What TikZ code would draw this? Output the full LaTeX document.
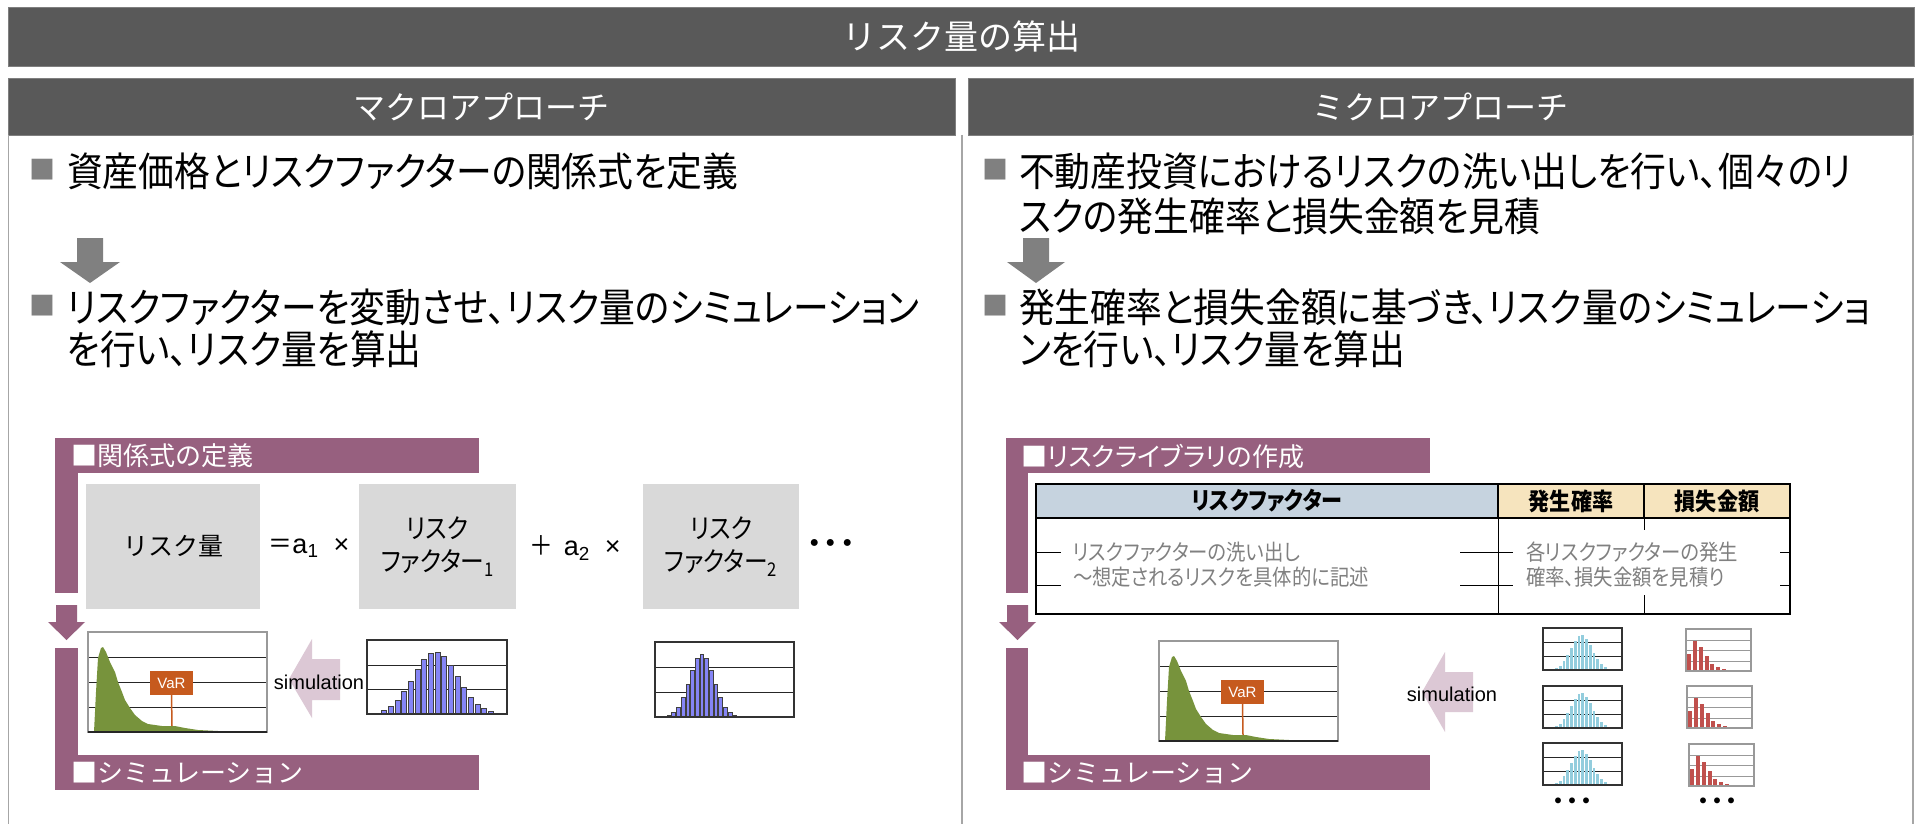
\documentclass[tikz,border=0pt]{standalone}
\usepackage{fontspec}
\newfontfamily\jp[FakeStretch=0.895,RawFeature=+palt]{Noto Sans CJK JP}
\newfontfamily\jpq[FakeStretch=0.88,RawFeature=+palt]{Noto Sans CJK JP}
\newfontfamily\jpp[RawFeature=+palt]{Noto Sans CJK JP}
\newfontfamily\jpn{Noto Sans CJK JP}
\newfontfamily\lat{Liberation Sans}
\newcommand\setfs[1]{\fontsize{#1}{#1}\selectfont}
\definecolor{hdr}{HTML}{595959}
\definecolor{hdrline}{HTML}{7F7F7F}
\definecolor{panel}{HTML}{A6A6A6}
\definecolor{bulgray}{HTML}{808080}
\definecolor{arrgray}{HTML}{808080}
\definecolor{purp}{HTML}{97607F}
\definecolor{eqgray}{HTML}{D9D9D9}
\definecolor{pinkarr}{HTML}{DCC8D5}
\definecolor{varor}{HTML}{C65A1E}
\definecolor{grn}{HTML}{77933C}
\definecolor{bbar}{HTML}{8585F5}
\definecolor{cyanbar}{HTML}{93CDDD}
\definecolor{redbar}{HTML}{C0504D}
\definecolor{thblue}{HTML}{C6D3DF}
\definecolor{thbeige}{HTML}{F6E4BE}
\definecolor{bodygray}{HTML}{808080}
\tikzset{
  hdrbar/.style={fill=hdr, draw=hdrline, line width=0.8pt, text=white},
  panelline/.style={draw=panel, line width=1.5pt},
  bulletsq/.style={text=bulgray, font=\jpn\setfs{26}},
  btxt/.style={anchor=west, text=black, font=\jp\setfs{40}},
  bandtxt/.style={anchor=west, text=white, font=\jpn\setfs{26}},
  eqbox/.style={fill=eqgray, text=black, font=\jpq\setfs{27}, align=center},
  eqtxt/.style={text=black, font=\jpq\setfs{27}},
  simtxt/.style={text=black, font=\lat\setfs{20}},
  dotstxt/.style={text=black, font=\jpn\bfseries\setfs{33}},
  thead/.style={draw=black, line width=1.2pt, text=black, font=\jpq\bfseries\setfs{24}, minimum height=34},
  bodytxt/.style={anchor=west, text=bodygray, font=\jpq\setfs{22}},
  gridl/.style={draw=black!85, line width=0.9pt},
  gridg/.style={draw=black!40, line width=0.9pt},
  frameb/.style={draw=black!80, line width=1.2pt},
  frameg/.style={draw=black!40, line width=1.2pt},
  varbox/.style={fill=varor, text=white, font=\lat\setfs{15}, minimum width=43, minimum height=24},
  greenchart/.pic={
    \foreach \yy in {25,50,75} \draw[gridl] (0,\yy) -- (179,\yy);
    \fill[grn] (6,100) -- (7,80) -- (8,60) -- (10,26) -- (13,16) -- (15,15) -- (18,20) -- (22,30) -- (27,40)
      -- (30,50) -- (34,60) -- (37,68) -- (42,76) -- (47,83) -- (54,89) -- (60,92) -- (67,93) -- (74,94)
      -- (87,94) -- (97,96) -- (110,98) -- (130,99) -- (179,100) -- cycle;
    \draw[frameg] (0,0) rectangle (179,100);
    \draw[black!85, line width=1.2pt] (0,100) -- (179,100);
    \node[varbox] (-var) at (83.5,51) {VaR};
    \draw[varor, line width=1.5pt] (-var.south) -- (84,94);
  },
  cyanchart/.pic={
    \foreach \yy in {14,28} \draw[gridl] (0,\yy) -- (79,\yy);
    \foreach \i in {0,...,16}{
      \pgfmathsetmacro\hh{35*exp(-0.5*pow((\i-6.7)/2.8,2))}
      \fill[cyanbar] ({12+\i*3.75},42) rectangle ++(2.9,-\hh);
    }
    \draw[frameb] (0,0) rectangle (79,42);
  },
  redchart/.pic={
    \foreach \yy in {11,21,32} \draw[gridg] (0,\yy) -- (65,\yy);
    \foreach \hh [count=\i from 0] in {17,30,24,15,7.3,4,2.3,0.8,0.8,0.8,0.8}{
      \fill[redbar] ({1+\i*5.83},42) rectangle ++(4,-\hh);
    }
    \draw[frameg] (0,0) rectangle (65,42);
  }
}
\begin{document}
\begin{tikzpicture}[x=1pt,y=-1pt,every node/.style={inner sep=0pt,outer sep=0pt}]
\useasboundingbox (0,0) rectangle (1919,824);
\fill[white] (0,0) rectangle (1919,824);

% title and headers
\node[hdrbar, minimum width=1906, minimum height=59, font=\jpn\setfs{34}] (title) at (961,36.5) {リスク量の算出};
\node[hdrbar, minimum width=947, minimum height=57, font=\jpn\setfs{32}] (hl) at (481.5,106.5) {マクロアプローチ};
\node[hdrbar, minimum width=945, minimum height=57, font=\jpn\setfs{32}] (hr) at (1440.5,106.5) {ミクロアプローチ};

% panel borders
\draw[panelline] (8.5,135) -- (8.5,824);
\draw[panelline] (962,135) -- (962,824);
\draw[panelline] (1913,135) -- (1913,824);

% left bullets
\node[bulletsq] (bl1) at (42,170) {■};
\node[btxt] (tl1) at (67,171) {資産価格とリスクファクターの関係式を定義};
\fill[arrgray] (77,238) -- (103,238) -- (103,262) -- (120,262) -- (90,283) -- (60,262) -- (77,262) -- cycle;
\node[bulletsq] (bl2) at (42,306) {■};
\node[btxt] (tl2) at (67,307) {リスクファクターを変動させ、リスク量のシミュレーション};
\node[btxt] (tl3) at (67,349) {を行い、リスク量を算出};

% right bullets
\node[bulletsq] (br1) at (995,170) {■};
\node[btxt] (tr1) at (1019,171) {不動産投資におけるリスクの洗い出しを行い、個々のリ};
\node[btxt] (tr2) at (1019,216) {スクの発生確率と損失金額を見積};
\fill[arrgray] (1023,238) -- (1049,238) -- (1049,262) -- (1065,262) -- (1036,283) -- (1007,262) -- (1023,262) -- cycle;
\node[bulletsq] (br2) at (995,306) {■};
\node[btxt] (tr3) at (1019,307) {発生確率と損失金額に基づき、リスク量のシミュレーショ};
\node[btxt] (tr4) at (1019,349) {ンを行い、リスク量を算出};

% ---------- left lower diagram ----------
\fill[purp] (55,438) rectangle (479,473);
\fill[purp] (55,438) rectangle (78,593);
\fill[purp] (56,605) -- (77,605) -- (77,622) -- (85,622) -- (66.5,640) -- (48,622) -- (56,622) -- cycle;
\fill[purp] (55,648) rectangle (78,790);
\fill[purp] (55,755) rectangle (479,790);
\node[bandtxt] (bandl1) at (71,456) {■関係式の定義};
\node[bandtxt] (bandl2) at (71,773) {■シミュレーション};

\node[eqbox, minimum width=174, minimum height=125, font=\jpn\setfs{25}] (bx1) at (173,546.5) {リスク量};
\node[eqbox, minimum width=157, minimum height=125] (bx2) at (437.5,546.5) {リスク\\[6pt]ファクター\textsubscript{1}};
\node[eqbox, minimum width=156, minimum height=125] (bx3) at (721,546.5) {リスク\\[6pt]ファクター\textsubscript{2}};
\node[eqtxt] (eq1) at (309,548) {＝{\lat a\textsubscript{1}\ \ ×}};
\node[eqtxt] (eq2) at (575,548) {＋\ \ {\lat a\textsubscript{2}\ \ ×}};
\node[dotstxt] (dots1) at (831,547) {･･･};

\pic (gl) at (88,632) {greenchart};
\fill[pinkarr] (289,679) -- (312,639) -- (312,659) -- (340,659) -- (340,700) -- (312,700) -- (312,718) -- cycle;
\node[simtxt] (siml) at (319,682) {simulation};

\begin{scope}[shift={(367,640)}]
  \foreach \yy in {25,49} \draw[gridl] (0,\yy) -- (140,\yy);
  \foreach \i in {0,...,17}{
    \pgfmathsetmacro\hh{62*exp(-0.5*pow((\i-7.7)/3.3,2))}
    \filldraw[fill=bbar, draw=black!75, line width=0.6pt] ({14.7+\i*6.67},74) rectangle ++(5,-\hh);
  }
  \draw[frameb] (0,0) rectangle (140,74);
\end{scope}
\begin{scope}[shift={(655,642)}]
  \foreach \yy in {25,50} \draw[gridl] (0,\yy) -- (139,\yy);
  \foreach \i in {0,...,16}{
    \pgfmathsetmacro\hh{63*exp(-0.5*pow((\i-7)/2.6,2))}
    \filldraw[fill=bbar, draw=black!75, line width=0.6pt] ({12+\i*4.7},75) rectangle ++(3.7,-\hh);
  }
  \draw[frameb] (0,0) rectangle (139,75);
\end{scope}

% ---------- right lower diagram ----------
\fill[purp] (1006,438) rectangle (1430,473);
\fill[purp] (1006,438) rectangle (1028,593);
\fill[purp] (1007,605) -- (1028,605) -- (1028,622) -- (1036,622) -- (1017.5,640) -- (999,622) -- (1007,622) -- cycle;
\fill[purp] (1006,648) rectangle (1028,790);
\fill[purp] (1006,755) rectangle (1430,790);
\node[bandtxt, font=\jpp\setfs{26}] (bandr1) at (1021,456) {■リスクライブラリの作成};
\node[bandtxt] (bandr2) at (1021,773) {■シミュレーション};

% table
\node[thead, fill=thblue, minimum width=462] (th1) at (1267,501) {リスクファクター};
\node[thead, fill=thbeige, minimum width=146] (th2) at (1571,501) {発生確率};
\node[thead, fill=thbeige, minimum width=146] (th3) at (1717,501) {損失金額};
\draw[black, line width=0.9pt] (1036,552) -- (1790,552);
\draw[black, line width=0.9pt] (1036,585) -- (1790,585);
\draw[black, line width=0.9pt] (1498,518) -- (1498,614);
\draw[black, line width=0.9pt] (1644,518) -- (1644,614);
\fill[white] (1061,530) rectangle (1460,598);
\fill[white] (1513,530) rectangle (1780,595);
\draw[black, line width=1.2pt] (1036,518) rectangle (1790,614);
\node[bodytxt] (b1) at (1073,552) {リスクファクターの洗い出し};
\node[bodytxt] (b2) at (1073,577) {～想定されるリスクを具体的に記述};
\node[bodytxt] (b3) at (1526,552) {各リスクファクターの発生};
\node[bodytxt] (b4) at (1526,577) {確率、損失金額を見積り};

\pic (gr) at (1159,641) {greenchart};
\fill[pinkarr] (1422,692) -- (1445,652) -- (1445,672) -- (1473,672) -- (1473,712) -- (1445,712) -- (1445,732) -- cycle;
\node[simtxt] (simr) at (1452,694) {simulation};

\pic (c1) at (1543,628) {cyanchart};
\pic (c2) at (1543,686) {cyanchart};
\pic (c3) at (1543,743) {cyanchart};
\pic (r1) at (1686,629) {redchart};
\pic (r2) at (1687,686) {redchart};
\pic (r3) at (1689,744) {redchart};
\node[dotstxt, font=\jpn\bfseries\setfs{28}] (dots2) at (1572,805) {･･･};
\node[dotstxt, font=\jpn\bfseries\setfs{28}] (dots3) at (1717,805) {･･･};
\end{tikzpicture}
\end{document}
